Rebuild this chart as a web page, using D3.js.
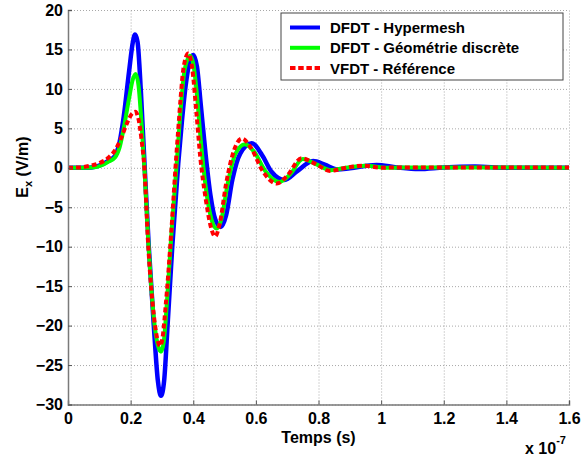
<!DOCTYPE html>
<html>
<head>
<meta charset="utf-8">
<script src="https://cdn.jsdelivr.net/npm/d3@7"></script>
<style>
  body { margin: 0; background: #fff; }
  text { font-family: "Liberation Sans", Arial, sans-serif; font-weight: bold; }
</style>
</head>
<body>
<div id="wrapper"></div>
<script>
// time in units of 1e-7 s, field in V/m
const hypermesh = [
  [0, 0], [0.06, 0], [0.09, 0.15], [0.11, 0.45], [0.13, 0.9], [0.15, 1.5],
  [0.165, 3.3], [0.178, 6.5], [0.195, 12.2], [0.207, 15.9], [0.214, 16.9],
  [0.222, 16.0], [0.233, 9.5], [0.245, 0], [0.258, -10], [0.274, -20],
  [0.287, -27], [0.297, -28.9], [0.307, -27], [0.318, -20], [0.333, -10],
  [0.352, 0.5], [0.364, 6], [0.376, 10.5], [0.388, 13.4], [0.400, 14.3],
  [0.412, 12.8], [0.424, 8], [0.44, 1.5], [0.455, -3.5], [0.47, -6.5],
  [0.488, -7.5], [0.505, -6], [0.525, -1.5], [0.55, 1.8], [0.587, 3.1],
  [0.62, 1.6], [0.65, -0.5], [0.692, -1.55], [0.73, -0.5], [0.783, 0.85],
  [0.82, 0.4], [0.86, -0.2], [0.9, -0.05], [0.985, 0.35], [1.05, 0.05],
  [1.12, -0.15], [1.2, 0.05], [1.3, 0.15], [1.4, 0.02], [1.6, 0]
];
const discrete = [
  [0, 0], [0.06, 0], [0.09, 0.1], [0.11, 0.35], [0.13, 0.8], [0.15, 1.3],
  [0.165, 2.6], [0.178, 5], [0.195, 8.8], [0.207, 11.2], [0.216, 11.9],
  [0.225, 10.5], [0.235, 5.5], [0.244, 0], [0.256, -9], [0.274, -19],
  [0.287, -22.5], [0.297, -23.3], [0.306, -22], [0.316, -17], [0.33, -8.5],
  [0.348, 1], [0.36, 7.5], [0.372, 12.3], [0.39, 14.2], [0.40, 13.2],
  [0.41, 10], [0.424, 3.5], [0.44, -2.5], [0.458, -6.5], [0.475, -7.7],
  [0.49, -6.5], [0.51, -2], [0.535, 1.8], [0.565, 3.0], [0.595, 2.0],
  [0.63, -0.4], [0.675, -1.8], [0.71, -0.8], [0.75, 1.1], [0.79, 0.5],
  [0.84, -0.3], [0.88, -0.05], [0.95, 0.25], [1.02, 0], [1.1, 0.05],
  [1.6, 0.02]
];
const reference = [
  [0, 0], [0.04, 0.05], [0.07, 0.25], [0.1, 0.6], [0.13, 1.3], [0.15, 2.2],
  [0.17, 3.8], [0.19, 5.8], [0.205, 6.9], [0.215, 7.1], [0.225, 6.2],
  [0.235, 3.5], [0.244, 0], [0.255, -9], [0.275, -19], [0.287, -22],
  [0.294, -22.6], [0.302, -21.5], [0.313, -17], [0.33, -8], [0.345, 1],
  [0.352, 4.8], [0.36, 9], [0.368, 12.4], [0.384, 14.5], [0.397, 12.5],
  [0.41, 7], [0.422, 1.5], [0.44, -4], [0.455, -7.3], [0.47, -8.7],
  [0.485, -7], [0.505, -2], [0.53, 2.2], [0.555, 3.7], [0.585, 2.5],
  [0.62, -0.3], [0.667, -2.0], [0.7, -1.0], [0.746, 1.2], [0.79, 0.5],
  [0.837, -0.4], [0.88, -0.05], [0.943, 0.27], [1.0, 0.02], [1.1, 0.05],
  [1.3, 0.05], [1.6, 0.05]
];

const seriesNames = ["DFDT - Hypermesh", "DFDT - Géométrie discrète", "VFDT - Référence"];
const xTicks = [0, 0.2, 0.4, 0.6, 0.8, 1, 1.2, 1.4, 1.6];
const xTickLabels = ["0", "0.2", "0.4", "0.6", "0.8", "1", "1.2", "1.4", "1.6"];
const yTicks = [-30, -25, -20, -15, -10, -5, 0, 5, 10, 15, 20];

const dimensions = {
  width: 581,
  height: 459,
  margin: { top: 10, right: 12, bottom: 54.5, left: 68 },
};
dimensions.boundedWidth = dimensions.width - dimensions.margin.left - dimensions.margin.right;
dimensions.boundedHeight = dimensions.height - dimensions.margin.top - dimensions.margin.bottom;

const wrapper = d3.select("#wrapper")
  .append("svg")
  .attr("width", dimensions.width)
  .attr("height", dimensions.height);

const bounds = wrapper.append("g")
  .attr("transform", `translate(${dimensions.margin.left},${dimensions.margin.top})`);

const xScale = d3.scaleLinear().domain([0, 1.6]).range([0, dimensions.boundedWidth]);
const yScale = d3.scaleLinear().domain([-30, 20]).range([dimensions.boundedHeight, 0]);

// dotted grid
bounds.append("g")
  .attr("transform", `translate(0,${dimensions.boundedHeight})`)
  .call(d3.axisBottom(xScale).tickValues(xTicks).tickSize(-dimensions.boundedHeight).tickFormat(""))
  .call(g => g.select(".domain").remove())
  .call(g => g.selectAll("line").attr("stroke", "#a8a8a8").attr("stroke-dasharray", "1,2"));
bounds.append("g")
  .call(d3.axisLeft(yScale).tickValues(yTicks).tickSize(-dimensions.boundedWidth).tickFormat(""))
  .call(g => g.select(".domain").remove())
  .call(g => g.selectAll("line").attr("stroke", "#a8a8a8").attr("stroke-dasharray", "1,2"));

// curves
const line = d3.line()
  .x(d => xScale(d[0]))
  .y(d => yScale(d[1]))
  .curve(d3.curveMonotoneX);

bounds.append("path").datum(hypermesh)
  .attr("d", line).attr("fill", "none")
  .attr("stroke", "#0000ff").attr("stroke-width", 4.5);
bounds.append("path").datum(discrete)
  .attr("d", line).attr("fill", "none")
  .attr("stroke", "#00ff00").attr("stroke-width", 4);
bounds.append("path").datum(reference)
  .attr("d", line).attr("fill", "none")
  .attr("stroke", "#ff0000").attr("stroke-width", 4)
  .attr("stroke-dasharray", "5,3");

// axes (ticks point inward, like matlab)
const xAxis = bounds.append("g")
  .attr("transform", `translate(0,${dimensions.boundedHeight})`)
  .call(d3.axisBottom(xScale).tickValues(xTicks).tickSize(-4).tickPadding(8)
    .tickFormat((d, i) => xTickLabels[i]));
const yAxis = bounds.append("g")
  .call(d3.axisLeft(yScale).tickValues(yTicks).tickSize(-4).tickPadding(5));

[xAxis, yAxis].forEach(g => {
  g.select(".domain").attr("stroke", "#7a7a7a").attr("stroke-width", 1.5);
  g.selectAll(".tick line").attr("stroke", "#555");
  g.selectAll("text").attr("fill", "#000").style("font-size", "16px");
});

// axis titles
wrapper.append("text")
  .attr("x", dimensions.margin.left + dimensions.boundedWidth / 2)
  .attr("y", 443)
  .attr("text-anchor", "middle")
  .style("font-size", "16px")
  .text("Temps (s)");

const yLabel = wrapper.append("text")
  .attr("transform", "translate(28,167) rotate(-90)")
  .attr("text-anchor", "middle")
  .style("font-size", "16px");
yLabel.append("tspan").text("E");
yLabel.append("tspan").attr("dy", 4).style("font-size", "11px").text("x");
yLabel.append("tspan").attr("dy", -4).text(" (V/m)");

const expo = wrapper.append("text")
  .attr("x", 525)
  .attr("y", 454)
  .style("font-size", "16px");
expo.append("tspan").text("x 10");
expo.append("tspan").attr("dy", -10).style("font-size", "11px").text("-7");

// legend
const legend = wrapper.append("g").attr("transform", "translate(281,13)");
legend.append("rect")
  .attr("width", 282).attr("height", 67)
  .attr("fill", "#fff").attr("stroke", "#444").attr("stroke-width", 1);
const legendColors = ["#0000ff", "#00ff00", "#ff0000"];
seriesNames.forEach((name, i) => {
  const y = 14.5 + i * 20.3;
  legend.append("line")
    .attr("x1", 9).attr("x2", 39).attr("y1", y).attr("y2", y)
    .attr("stroke", legendColors[i]).attr("stroke-width", 4)
    .attr("stroke-dasharray", i === 2 ? "5.5,2.7" : null);
  legend.append("text")
    .attr("x", 49).attr("y", y).attr("dy", "0.36em")
    .style("font-size", "15px")
    .text(name);
});
</script>
</body>
</html>
